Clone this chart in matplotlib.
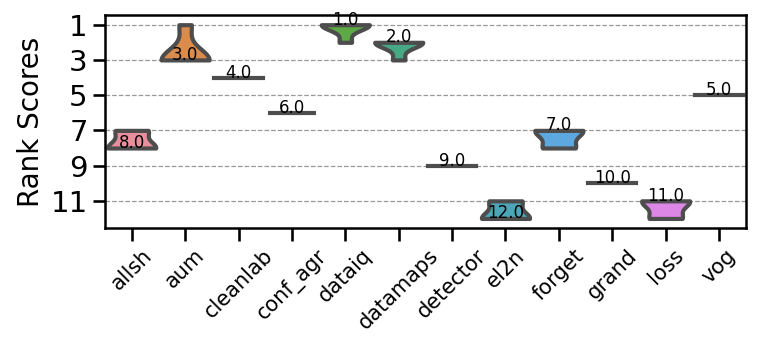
import matplotlib
matplotlib.use("Agg")
import matplotlib.pyplot as plt
import numpy as np
import pandas as pd
import seaborn as sns


METHODS = ["allsh", "aum", "cleanlab", "conf_agr", "dataiq", "datamaps",
           "detector", "el2n", "forget", "grand", "loss", "vog"]

# rank of each method on 5 runs
RANKS = {
    "allsh": [7, 7, 8, 8, 8],
    "aum": [1, 3, 3, 3, 3],
    "cleanlab": [4, 4, 4, 4, 4],
    "conf_agr": [6, 6, 6, 6, 6],
    "dataiq": [1, 1, 1, 1, 2],
    "datamaps": [2, 2, 2, 2, 3],
    "detector": [9, 9, 9, 9, 9],
    "el2n": [11, 11, 12, 12, 12],
    "forget": [7, 7, 7, 8, 8],
    "grand": [10, 10, 10, 10, 10],
    "loss": [11, 11, 11, 12, 12],
    "vog": [5, 5, 5, 5, 5],
}
YTICKS = [1, 3, 5, 7, 9, 11]


def main():
    sns.set_context("talk")
    df = pd.DataFrame(
        [(m, r) for m in METHODS for r in RANKS[m]],
        columns=["method", "rank"],
    )

    fig, ax = plt.subplots(figsize=(7.61, 3.41), dpi=100)
    fig.subplots_adjust(left=0.138, right=0.980, top=0.956, bottom=0.331)
    ax.set_axisbelow(True)

    sns.violinplot(
        data=df, x="method", y="rank", hue="method", order=METHODS,
        hue_order=METHODS, palette=sns.husl_palette(len(METHODS), l=0.68),
        cut=0, inner=None, density_norm="width", width=0.9,
        linewidth=3, linecolor="#4d4d4d", legend=False, ax=ax,
    )

    for i, m in enumerate(METHODS):
        med = float(np.median(RANKS[m]))
        ax.text(i, med, f"{med}", ha="center", va="baseline", fontsize=12)

    ax.set_ylim(12.55, 0.45)
    ax.set_xlim(-0.5, len(METHODS) - 0.5)
    ax.set_yticks(YTICKS)
    ax.tick_params(axis="y", labelsize=21)
    ax.tick_params(axis="x", labelsize=15)
    plt.setp(ax.get_xticklabels(), rotation=45, ha="center")
    ax.set_xlabel("")
    ax.set_ylabel("Rank Scores", fontsize=20)
    ax.yaxis.grid(True, linestyle="--", color="#999999", linewidth=0.9)
    for s in ax.spines.values():
        s.set_linewidth(1.8)

    fig.savefig("out.png", dpi=100)
    plt.close(fig)


if __name__ == "__main__":
    main()
